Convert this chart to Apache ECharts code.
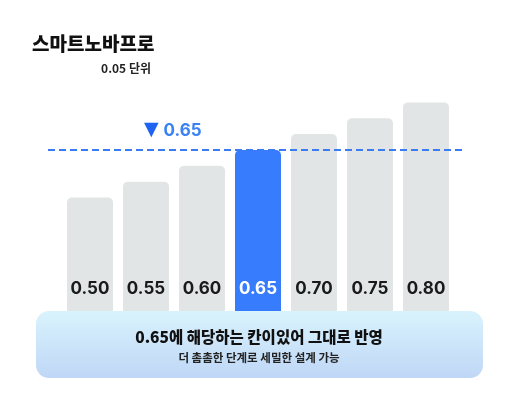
<!DOCTYPE html>
<html>
<head>
<meta charset="utf-8">
<script src="https://cdn.jsdelivr.net/npm/echarts@6/dist/echarts.min.js"></script>
<style>
  html, body { margin: 0; padding: 0; background: #fff; }
  #chart { width: 518px; height: 410px; }
</style>
</head>
<body>
<div id="chart"></div>
<script>
// 단계 (0.05 단위)
const categories = ['0.50', '0.55', '0.60', '0.65', '0.70', '0.75', '0.80']
const values = [0.50, 0.55, 0.60, 0.65, 0.70, 0.75, 0.80]
const targetValue = 0.65
const highlightIndex = 3

const titleText = '스마트노바프로'
const unitText = '0.05 단위'
const noteMain = '0.65에 해당하는 칸이있어 그대로 반영'
const noteSub = '더 촘촘한 단계로 세밀한 설계 가능'

const FONT = 'Inter, "Noto Sans CJK KR", sans-serif'
const KR = '"Noto Sans CJK KR", Inter, sans-serif'

const chart = echarts.init(document.getElementById('chart'))

const option = {
  backgroundColor: '#fff',
  animation: false,
  title: [
    {
      text: titleText,
      left: 27,
      top: 29,
      textStyle: { fontFamily: KR, fontSize: 19, fontWeight: 900, color: '#111' }
    },
    {
      text: unitText,
      left: 146,
      top: 57,
      textAlign: 'right',
      textStyle: { fontFamily: KR, fontSize: 12, fontWeight: 'bold', color: '#222' }
    }
  ],
  grid: [
    { left: 62, right: 64, top: 39, bottom: 54 },
    { left: 48, right: 55, top: 39, bottom: 54 }
  ],
  xAxis: [
    {
      type: 'category',
      gridIndex: 0,
      data: categories,
      axisLine: { show: false },
      axisTick: { show: false },
      axisLabel: { show: false }
    },
    {
      type: 'value',
      gridIndex: 1,
      min: 0,
      max: 1,
      show: false
    }
  ],
  yAxis: [
    { type: 'value', gridIndex: 0, min: 0, max: 1, show: false },
    { type: 'value', gridIndex: 1, min: 0, max: 1, show: false }
  ],
  series: [
    {
      type: 'bar',
      xAxisIndex: 0,
      yAxisIndex: 0,
      barWidth: 46,
      data: values.map((v, i) => ({
        value: v,
        itemStyle: { color: i === highlightIndex ? '#367cfc' : '#e1e5e5' },
        label: { color: i === highlightIndex ? '#fff' : '#1a1a1a' }
      })),
      itemStyle: { borderRadius: [5, 5, 0, 0] },
      label: {
        show: true,
        position: 'insideBottom',
        distance: 59,
        formatter: p => categories[p.dataIndex],
        fontFamily: FONT,
        fontSize: 17,
        fontWeight: 'bold'
      }
    },
    {
      type: 'line',
      xAxisIndex: 1,
      yAxisIndex: 1,
      data: [],
      markLine: {
        symbol: 'none',
        silent: true,
        lineStyle: { color: '#3b7cf5', width: 2, type: [7, 4] },
        label: {
          position: 'insideStartTop',
          distance: [96, 10],
          formatter: '{tri|▼}{num|' + targetValue.toFixed(2) + '}',
          rich: {
            tri: { fontSize: 19, color: '#1f63f2', fontFamily: 'DejaVu Sans', padding: [0, 5, 0, 0] },
            num: { fontSize: 17, fontWeight: 'bold', color: '#3b82f6', fontFamily: FONT }
          }
        },
        data: [{ yAxis: targetValue }]
      }
    }
  ],
  graphic: [
    {
      type: 'rect',
      z: 100,
      shape: { x: 36, y: 311, width: 447, height: 67, r: 13 },
      style: {
        fill: new echarts.graphic.LinearGradient(0, 0, 0, 1, [
          { offset: 0, color: '#d9f3fd' },
          { offset: 1, color: '#bfd7f6' }
        ])
      }
    },
    {
      type: 'text',
      z: 101,
      x: 259,
      y: 337,
      style: {
        text: noteMain,
        align: 'center',
        verticalAlign: 'middle',
        fontFamily: KR,
        fontSize: 15.5,
        fontWeight: 900,
        fill: '#111'
      }
    },
    {
      type: 'text',
      z: 101,
      x: 259,
      y: 358,
      style: {
        text: noteSub,
        align: 'center',
        verticalAlign: 'middle',
        fontFamily: KR,
        fontSize: 11.5,
        fontWeight: 'bold',
        fill: '#222'
      }
    }
  ]
}

chart.setOption(option)

window.addEventListener('resize', () => chart.resize())
</script>
</body>
</html>
